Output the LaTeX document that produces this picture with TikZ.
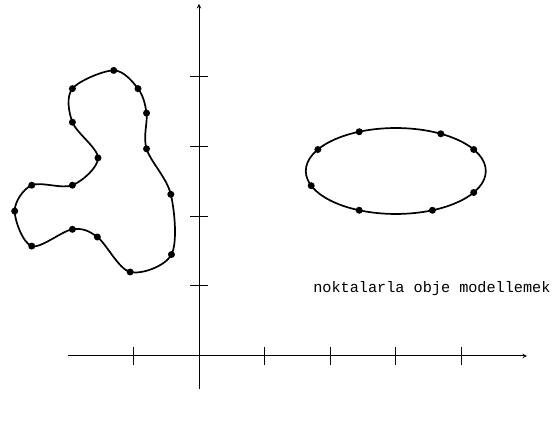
\documentclass[tikz,border=0pt]{standalone}
\usepackage{fontspec}
\setmonofont{Liberation Mono}
\begin{document}
\begin{tikzpicture}[>=stealth, x=65.6pt, y=70pt,
		curve/.style={line width=1.7pt},
		dot/.style={fill=black}]
			\useasboundingbox (-3.034,-1.014) rectangle (5.473,5.086);
			% Eksenler
			\draw[->, line width=1pt] (-1.997,0) -- (5.0,0);
			\draw[->, line width=1pt] (0,-0.471) -- (0,5.03);

			% Çentikler
			\foreach \x in {-1,1,2,3,4}
				\draw[line width=1pt] (\x,-0.126) -- (\x,0.126);
			\foreach \y in {1,2,3,4}
				\draw[line width=1pt] (-0.134,\y) -- (0.134,\y);

			% Serbest şekil
			\foreach \px/\py [count=\i] in {-1.30/4.08,-0.93/3.82,-0.80/3.47,-0.80/2.96,
				-0.43/2.31,-0.42/1.45,-1.05/1.20,-1.55/1.70,
				-1.93/1.81,-2.55/1.57,-2.81/2.07,-2.55/2.44,
				-1.93/2.44,-1.54/2.83,-1.93/3.34,-1.93/3.82}
				\coordinate (b\i) at (\px,\py);
			\draw[curve] plot[smooth cycle, tension=0.55] coordinates
				{(b1) (b2) (b3) (b4) (b5) (b6) (b7) (b8)
				 (b9) (b10) (b11) (b12) (b13) (b14) (b15) (b16)};
			\foreach \i in {1,...,16}
				\fill[dot] (b\i) circle (3.5pt);

			% Elips
			\coordinate (elc) at (3.0,2.643);
			\draw[curve] (elc) ellipse [x radius=1.372, y radius=0.614];
			\foreach \a in {114,60,30,-30,-66,-114,-160,150}
				\fill[dot] (elc) ++(\a:1.372 and 0.614) circle (3.5pt);

			% Yazı
			\node[anchor=base west, inner sep=0pt, font=\ttfamily\fontsize{15.2pt}{18pt}\selectfont]
				(yazi) at (1.74,0.90) {noktalarla obje modellemek};
		\end{tikzpicture}
\end{document}
